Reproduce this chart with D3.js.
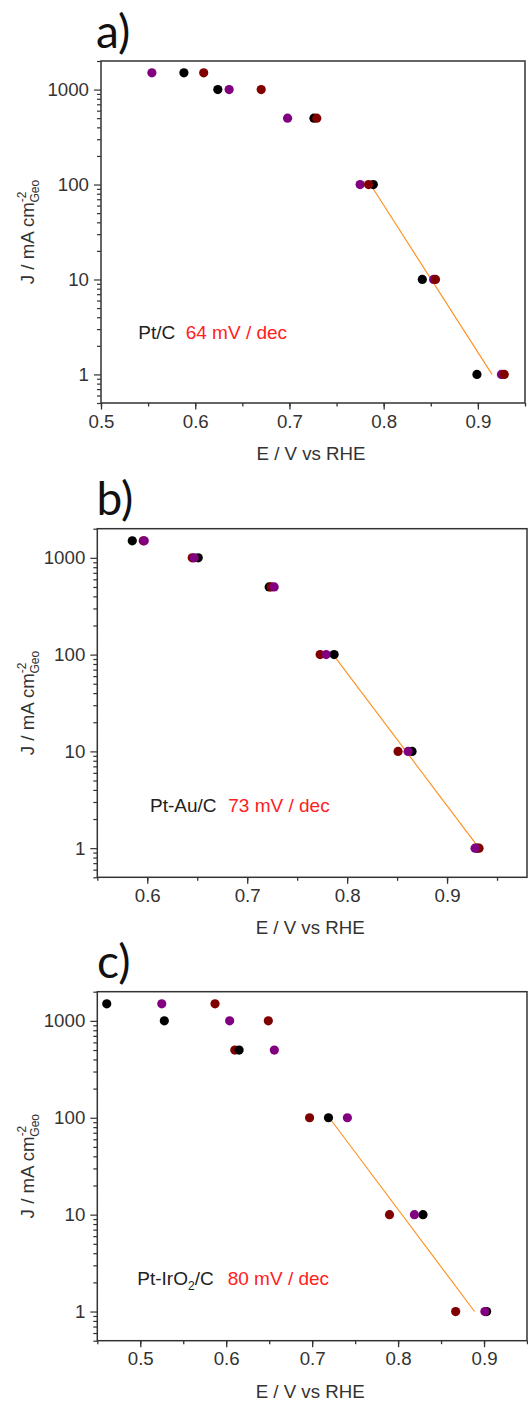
<!DOCTYPE html>
<html>
<head>
<meta charset="utf-8">
<script src="https://cdn.jsdelivr.net/npm/d3@7"></script>
<style>
  html, body { margin: 0; padding: 0; background: #fff; }
  svg { display: block; }
  text { font-family: "Liberation Sans", Arial, sans-serif; }
</style>
</head>
<body>
<script>
// ---------------- DATA ----------------
const currentLevels = [1500, 1000, 500, 100, 10, 1]; // J / mA cm-2

const aBlack  = [0.588, 0.624, 0.726, 0.789, 0.841, 0.899];
const aPurple = [0.554, 0.636, 0.698, 0.775, 0.853, 0.925];
const aRed    = [0.609, 0.670, 0.729, 0.784, 0.855, 0.928];

const bBlack  = [0.585, 0.651, 0.722, 0.787, 0.865, 0.930];
const bPurple = [0.597, 0.647, 0.727, 0.779, 0.861, 0.928];
const bRed    = [0.596, 0.645, 0.724, 0.773, 0.851, 0.932];

const cBlack  = [0.461, 0.528, 0.615, 0.719, 0.829, 0.903];
const cPurple = [0.525, 0.604, 0.656, 0.741, 0.819, 0.901];
const cRed    = [0.587, 0.649, 0.610, 0.697, 0.790, 0.867];

const fitJ  = [100, 1];
const aFitE = [0.786, 0.915];
const bFitE = [0.786, 0.932];
const cFitE = [0.720, 0.889];

const panelLabels = ["a)", "b)", "c)"];
const catalysts = ["Pt/C", "Pt-Au/C", "Pt-IrO2/C"];
const tafelSlopes = ["64 mV / dec", "73 mV / dec", "80 mV / dec"];

const xTicksA = [0.5, 0.6, 0.7, 0.8, 0.9];
const xTicksB = [0.6, 0.7, 0.8, 0.9];
const xTicksC = [0.5, 0.6, 0.7, 0.8, 0.9];
const yTicks  = [1, 10, 100, 1000];

const xTitle = "E / V vs RHE";

// ---------------- LAYOUT ----------------
const W = 528, H = 1403;
const svg = d3.select("body").append("svg").attr("width", W).attr("height", H);

const colors = { black: "#000000", purple: "#800080", red: "#800000" };

const panels = [
  { label: panelLabels[0], cat: catalysts[0], slope: tafelSlopes[0],
    left: 101, right: 525, top: 61, bottom: 403, xDom: [0.5, 0.95], xTicks: xTicksA,
    series: [["black", aBlack], ["purple", aPurple], ["red", aRed]],
    fitE: aFitE, labelPos: [96, 48], catPos: [138.3, 339.3], slopePos: [185.7, 339.3] },
  { label: panelLabels[1], cat: catalysts[1], slope: tafelSlopes[1],
    left: 97.3, right: 527, top: 528.7, bottom: 877.3, xDom: [0.55, 0.98], xTicks: xTicksB,
    series: [["black", bBlack], ["red", bRed], ["purple", bPurple]],
    fitE: bFitE, labelPos: [96.5, 515], catPos: [150, 812.3], slopePos: [228.3, 812.3] },
  { label: panelLabels[2], cat: catalysts[2], slope: tafelSlopes[2],
    left: 97.3, right: 527, top: 991.7, bottom: 1340.7, xDom: [0.45, 0.95], xTicks: xTicksC,
    series: [["red", cRed], ["black", cBlack], ["purple", cPurple]],
    fitE: cFitE, labelPos: [97, 977.7], catPos: [137.3, 1285], slopePos: [227.7, 1285] }
];

const axisColor = "#333333";
const fontSize = 18.7;

panels.forEach(p => {
  const g = svg.append("g");
  const x = d3.scaleLinear().domain(p.xDom).range([p.left, p.right]);
  const y = d3.scaleLog().domain([0.5, 2000]).range([p.bottom, p.top]);

  // panel label
  g.append("text")
    .attr("x", p.labelPos[0]).attr("y", p.labelPos[1])
    .style("font-family", "Lato, 'Open Sans', sans-serif")
    .style("font-size", "46px")
    .attr("fill", "#111")
    .text(p.label);

  // frame
  g.append("rect")
    .attr("x", p.left).attr("y", p.top)
    .attr("width", p.right - p.left).attr("height", p.bottom - p.top)
    .attr("fill", "none").attr("stroke", axisColor).attr("stroke-width", 1.5);

  // x axis
  const minorX = d3.range(Math.round(p.xDom[0] * 20), Math.round(p.xDom[1] * 20) + 1).map(v => v / 20);
  const xAxisMinor = d3.axisBottom(x).tickValues(minorX).tickSize(3.5).tickFormat("");
  const xAxis = d3.axisBottom(x).tickValues(p.xTicks).tickSize(6.5).tickPadding(5)
    .tickFormat(d3.format(".1f"));
  const gxm = g.append("g").attr("transform", `translate(0,${p.bottom})`).call(xAxisMinor);
  const gx = g.append("g").attr("transform", `translate(0,${p.bottom})`).call(xAxis);
  [gx, gxm].forEach(a => {
    a.select(".domain").remove();
    a.selectAll("line").attr("stroke", axisColor).attr("stroke-width", 1.3);
  });
  gx.selectAll("text").attr("fill", axisColor).style("font-size", fontSize + "px")
    .style("font-family", "'Liberation Sans', Arial, sans-serif");

  // y axis
  const minorY = [];
  [0.1, 1, 10, 100, 1000].forEach(dec => {
    for (let k = 2; k <= 9; k++) {
      const v = dec * k;
      if (v >= 0.5 && v <= 2000) minorY.push(v);
    }
  });
  const yAxisMinor = d3.axisLeft(y).tickValues(minorY).tickSize(4).tickFormat("");
  const yAxis = d3.axisLeft(y).tickValues(yTicks).tickSize(7).tickPadding(5).tickFormat(d3.format("d"));
  const gym = g.append("g").attr("transform", `translate(${p.left},0)`).call(yAxisMinor);
  const gy = g.append("g").attr("transform", `translate(${p.left},0)`).call(yAxis);
  [gy, gym].forEach(a => {
    a.select(".domain").remove();
    a.selectAll("line").attr("stroke", axisColor).attr("stroke-width", 1.2);
  });
  gy.selectAll("text").attr("fill", axisColor).style("font-size", fontSize + "px")
    .style("font-family", "'Liberation Sans', Arial, sans-serif");

  // x title
  g.append("text")
    .attr("x", (p.left + p.right) / 2 - 2)
    .attr("y", p.bottom + 57)
    .attr("text-anchor", "middle")
    .attr("fill", axisColor)
    .style("font-size", fontSize + "px")
    .text(xTitle);

  // y title
  const cy = (p.top + p.bottom) / 2;
  const yt = g.append("text")
    .attr("transform", `translate(34,${cy}) rotate(-90)`)
    .attr("text-anchor", "middle")
    .attr("fill", axisColor)
    .style("font-size", fontSize + "px");
  yt.append("tspan").text("J / mA cm");
  yt.append("tspan").attr("dy", -8).style("font-size", "12px").text("-2");
  yt.append("tspan").attr("dx", -11).attr("dy", 13).style("font-size", "12px").text("Geo");

  // fit line
  const line = d3.line().x(d => x(d[0])).y(d => y(d[1]));
  g.append("path")
    .datum(p.fitE.map((e, i) => [e, fitJ[i]]))
    .attr("d", line)
    .attr("fill", "none")
    .attr("stroke", "#FF8C1A")
    .attr("stroke-width", 1.1);

  // points
  p.series.forEach(([col, vals]) => {
    g.selectAll(null)
      .data(vals.map((e, i) => [e, currentLevels[i]]))
      .enter().append("circle")
      .attr("cx", d => x(d[0]))
      .attr("cy", d => y(d[1]))
      .attr("r", 4.6)
      .attr("fill", colors[col]);
  });

  // annotation
  const cat = g.append("text")
    .attr("x", p.catPos[0]).attr("y", p.catPos[1])
    .attr("fill", "#222")
    .style("font-size", "19px");
  const m = p.cat.match(/^(.*?)(O)(2)(\/C)$/);
  if (m) {
    cat.append("tspan").text(m[1] + m[2]);
    cat.append("tspan").attr("dy", 5).style("font-size", "12px").text(m[3]);
    cat.append("tspan").attr("dy", -5).text(m[4]);
  } else {
    cat.text(p.cat);
  }
  g.append("text")
    .attr("x", p.slopePos[0]).attr("y", p.slopePos[1])
    .attr("fill", "#FF2020")
    .style("font-size", "19px")
    .text(p.slope);
});
</script>
</body>
</html>
